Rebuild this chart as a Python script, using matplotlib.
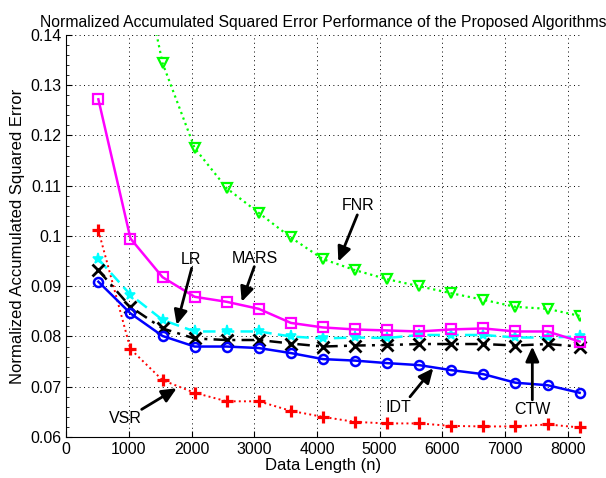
import matplotlib
matplotlib.use("Agg")
import matplotlib.pyplot as plt
from matplotlib.ticker import AutoMinorLocator

plt.rcParams['font.family'] = ['Liberation Sans', 'DejaVu Sans']

# data length (n)
n = [512, 1024, 1536, 2048, 2560, 3072, 3584, 4096,
     4608, 5120, 5632, 6144, 6656, 7168, 7680, 8192]

fnr = [0.210, 0.165, 0.1344, 0.1175, 0.1095, 0.1046, 0.0997, 0.0954,
       0.0932, 0.0914, 0.0900, 0.0886, 0.0873, 0.0859, 0.0855, 0.0841]
mars = [0.1272, 0.0995, 0.0918, 0.0879, 0.0869, 0.0855, 0.0827, 0.0818,
        0.0814, 0.0812, 0.0810, 0.0814, 0.0816, 0.0810, 0.0810, 0.0790]
lr = [0.0954, 0.0883, 0.0833, 0.0810, 0.0810, 0.0810, 0.0800, 0.0796,
      0.0798, 0.0797, 0.0803, 0.0803, 0.0803, 0.0798, 0.0798, 0.0800]
ctw = [0.0932, 0.0859, 0.0816, 0.0796, 0.0793, 0.0793, 0.0786, 0.0780,
       0.0782, 0.0783, 0.0785, 0.0785, 0.0785, 0.0782, 0.0785, 0.0780]
idt = [0.0909, 0.0846, 0.0801, 0.0780, 0.0780, 0.0777, 0.0767, 0.0755,
       0.0752, 0.0747, 0.0743, 0.0733, 0.0725, 0.0708, 0.0703, 0.0688]
vsr = [0.1011, 0.0775, 0.0713, 0.0688, 0.0671, 0.0671, 0.0652, 0.0640,
       0.0630, 0.0627, 0.0627, 0.0622, 0.0621, 0.0621, 0.0625, 0.0619]

# label text, text position, arrow tail, arrow head (data coords)
labels = [
    ('FNR', (4660, 0.1060), (4644, 0.1042), (4341, 0.0949)),
    ('MARS', (3012, 0.0956), (3000, 0.0939), (2799, 0.0869)),
    ('LR', (1990, 0.0954), (2001, 0.0936), (1762, 0.0823)),
    ('VSR', (937, 0.0637), (1203, 0.0655), (1762, 0.0697)),
    ('IDT', (5298, 0.0659), (5485, 0.0680), (5857, 0.0737)),
    ('CTW', (7443, 0.0654), (7437, 0.0674), (7437, 0.0780)),
]

fig = plt.figure(figsize=(6.06, 4.78), dpi=100)
ax = fig.add_axes([0.1094, 0.0858, 0.8471, 0.8410])

ax.plot(n, fnr, ':', color=(0, 1, 0), lw=1.6, marker='v', ms=7,
        mfc='none', mew=1.6, clip_on=True)
ax.plot(n, vsr, ':', color=(1, 0, 0), lw=1.4, marker='+', ms=9,
        mew=2.3, clip_on=False)
ax.plot(n, lr, '--', color=(0, 1, 1), lw=1.8, dashes=(5, 2.5), marker='*',
        ms=8, mew=1.2, clip_on=False)
ax.plot(n, ctw, '-.', color='k', lw=1.8, dashes=(5, 2.5, 1.2, 2.5), marker='x',
        ms=8, mew=2.0, clip_on=False)
ax.plot(n, idt, '-', color=(0, 0, 1), lw=1.8, marker='o', ms=6.5,
        mfc='none', mew=1.8, clip_on=False)
ax.plot(n, mars, '-', color=(1, 0, 1), lw=1.8, marker='s', ms=6.5,
        mfc='none', mew=1.6, clip_on=False)

for txt, tpos, tail, head in labels:
    ax.text(tpos[0], tpos[1], txt, fontsize=11.5, ha='center', va='center')
    ax.annotate('', xy=head, xytext=tail,
                arrowprops=dict(arrowstyle='-|>,head_length=0.55,head_width=0.25',
                                color='k', lw=2, mutation_scale=16,
                                shrinkA=0, shrinkB=0))

ax.set_xlim(0, 8192)
ax.set_ylim(0.06, 0.14)
ax.set_xticks(range(0, 9000, 1000))
ax.set_yticks([0.06, 0.07, 0.08, 0.09, 0.1, 0.11, 0.12, 0.13, 0.14])
ax.set_yticklabels(['0.06', '0.07', '0.08', '0.09', '0.1', '0.11', '0.12', '0.13', '0.14'])
ax.yaxis.set_minor_locator(AutoMinorLocator(5))
ax.tick_params(direction='in', labelsize=11.5, length=4, width=0.8)
ax.tick_params(which='minor', direction='in', length=2, width=0.6)
ax.grid(True, ls=(0, (1, 3.5)), color='k', lw=0.7)
ax.spines['top'].set_visible(False)
ax.spines['right'].set_visible(False)

ax.set_xlabel('Data Length (n)', fontsize=12, labelpad=1)
ax.set_ylabel('Normalized Accumulated Squared Error', fontsize=12, labelpad=4)
ax.set_title('Normalized Accumulated Squared Error Performance of the Proposed Algorithms',
             fontsize=11.3, pad=6)

fig.savefig('out.png', dpi=100)
